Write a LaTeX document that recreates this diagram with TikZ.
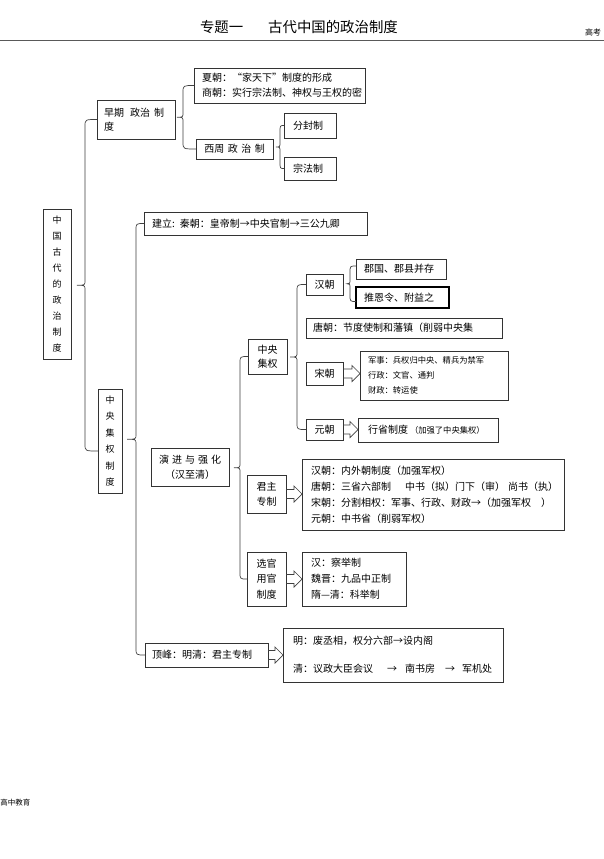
\documentclass[tikz,border=0pt]{standalone}
\usepackage{fontspec}
\setmainfont{Noto Sans CJK SC}
\usetikzlibrary{calc}
\newcommand\cbrace[5]{%
  \draw[brc] let \p1=(#1.east), \p2=#4, \p3=#5, \p4=($#4!0.5!#5$) in
  (\p2) .. controls ({\x1+#2+#3},\y2) .. ({\x1+#2+#3},{\y2-7pt})
  -- ({\x1+#2+#3},{\y4+5pt}) .. controls ({\x1+#2+#3},\y4) .. ({\x1+#2},\y4)
  .. controls ({\x1+#2+#3},\y4) .. ({\x1+#2+#3},{\y4-5pt})
  -- ({\x1+#2+#3},{\y3+7pt}) .. controls ({\x1+#2+#3},\y3) .. (\p3);}
\newcommand\harrow[2]{%
  \draw[har] let \p1=(#1.east), \p2=(#2.west) in
  (\x1,{\y1+4.5pt}) -- ({\x2-8pt},{\y1+4.5pt}) -- ({\x2-8pt},{\y1+8pt}) -- (\x2,\y1)
  -- ({\x2-8pt},{\y1-8pt}) -- ({\x2-8pt},{\y1-4.5pt}) -- (\x1,{\y1-4.5pt});}
\tikzset{
  bx/.style={draw=black!80, line width=0.7pt, anchor=north west, inner ysep=0pt,
    outer sep=0pt, align=left, font=\fontsize{10}{15}\selectfont},
  cbx/.style={bx, inner xsep=0pt, align=center},
  brc/.style={draw=black!75, line width=0.7pt},
  har/.style={draw=black!75, line width=0.7pt},
  plain/.style={inner sep=0pt, outer sep=0pt},
}
\begin{document}
\begin{tikzpicture}[x=1pt,y=-1pt]
\useasboundingbox[fill=white] (0,0) rectangle (604,859);

% header and footer
\node[plain, anchor=west, font=\fontsize{14.4}{16}\selectfont] (title) at (200,27) {专题一\hspace{25pt}古代中国的政治制度};
\node[plain, anchor=east, font=\fontsize{8}{9}\selectfont] (gk) at (601,32) {高考};
\coordinate (hl) at (0,40.7);
\coordinate (hr) at (604,40.7);
\draw[line width=1.5pt, black!65] (hl) -- (hr);
\node[plain, anchor=west, font=\fontsize{7.5}{9}\selectfont] (foot) at (0.5,803) {高中教育};

% root
\node[cbx, minimum width=28pt, minimum height=150pt, text width=28pt, font=\fontsize{9}{16.1}\selectfont] (china) at (43,209)
  {中\\国\\古\\代\\的\\政\\治\\制\\度};

% early system
\node[bx, minimum width=78pt, minimum height=39pt, inner xsep=7pt, text width=64pt, font=\fontsize{10}{14}\selectfont] (zaoqi) at (97,100)
  {早期\hspace{6pt}政治\hspace{4pt}制\\度};
\node[bx, minimum width=171pt, minimum height=35pt, inner xsep=8pt, text width=155pt] (xiashang) at (194,68)
  {夏朝：“家天下”制度的形成\\商朝：实行宗法制、神权与王权的密};
\node[cbx, minimum width=77pt, minimum height=20pt, text width=77pt] (xizhou) at (196,139)
  {西周\hspace{3.5pt}政\hspace{3.5pt}治\hspace{3.5pt}制};
\node[bx, minimum width=52pt, minimum height=25pt, inner xsep=9pt, text width=34pt] (fenfeng) at (284,113) {分封制};
\node[bx, minimum width=52pt, minimum height=23pt, inner xsep=9pt, text width=34pt] (zongfa) at (284,157) {宗法制};

% centralisation
\node[cbx, minimum width=24pt, minimum height=104pt, text width=24pt, font=\fontsize{9}{16.4}\selectfont] (zyjqzd) at (98,389)
  {中\\央\\集\\权\\制\\度};
\node[bx, minimum width=223pt, minimum height=23pt, inner xsep=8pt, text width=207pt] (jianli) at (144,212)
  {建立: 秦朝：皇帝制→中央官制→三公九卿};
\node[bx, minimum width=123pt, minimum height=24pt, inner xsep=7pt, text width=109pt] (dingfeng) at (145,643)
  {顶峰：明清：君主专制};
\node[bx, minimum width=220pt, minimum height=54pt, inner xsep=10pt, text width=200pt, font=\fontsize{10}{28}\selectfont] (mingqing) at (283,628)
  {明：废丞相，权分六部→设内阁\\\mbox{清：议政大臣会议\hspace{14pt}→\hspace{8pt}南书房\hspace{10pt}→\hspace{7pt}军机处}};

\node[cbx, minimum width=78pt, minimum height=38pt, text width=78pt] (yanjin) at (151,448)
  {演\hspace{3pt}进\hspace{3pt}与\hspace{3pt}强\hspace{3pt}化\\（汉至清）};
\node[cbx, minimum width=39pt, minimum height=35pt, text width=39pt, font=\fontsize{10}{14}\selectfont] (zyjq) at (248,339) {中央\\集权};
\node[cbx, minimum width=39pt, minimum height=38pt, text width=39pt] (junzhu) at (247,475) {君主\\专制};
\node[cbx, minimum width=39pt, minimum height=54pt, text width=39pt, font=\fontsize{10}{15.5}\selectfont] (xuanguan) at (247,552) {选官\\用官\\制度};

\node[bx, minimum width=262pt, minimum height=71pt, inner xsep=9pt, text width=244pt, font=\fontsize{10}{16}\selectfont] (jzlist) at (302,459)
  {汉朝：内外朝制度（加强军权）\\
   \mbox{唐朝：三省六部制\hspace{14pt}中书（拟）门下（审）\hspace{3pt}尚书（执）}\\
   \mbox{宋朝：分割相权：军事、行政、财政→（加强军权\hspace{10pt}）}\\
   元朝：中书省（削弱军权）};
\node[bx, minimum width=104pt, minimum height=54pt, inner xsep=9pt, text width=86pt, font=\fontsize{10}{16}\selectfont] (xglist) at (302,552)
  {汉：察举制\\魏晋：九品中正制\\隋—清：科举制};

% dynasties
\node[cbx, minimum width=37pt, minimum height=21pt, text width=37pt] (han) at (306,274) {汉朝};
\node[bx, minimum width=90pt, minimum height=20pt, inner xsep=8pt, text width=74pt] (junguo) at (356,259) {郡国、郡县并存};
\node[bx, draw=black, line width=1.4pt, minimum width=93pt, minimum height=21pt, inner xsep=8pt, text width=77pt] (tuien) at (356,287) {推恩令、附益之};
\node[bx, minimum width=196pt, minimum height=20pt, inner xsep=7pt, text width=182pt] (tang) at (306,318) {唐朝：节度使制和藩镇（削弱中央集};
\node[cbx, minimum width=37pt, minimum height=23pt, text width=37pt] (song) at (306,362) {宋朝};
\node[bx, minimum width=148pt, minimum height=49pt, inner xsep=8pt, text width=132pt, font=\fontsize{8.3}{15}\selectfont] (songlist) at (360,351)
  {军事：兵权归中央、精兵为禁军\\行政：文官、通判\\财政：转运使};
\node[cbx, minimum width=37pt, minimum height=21pt, text width=37pt] (yuan) at (306,419) {元朝};
\node[bx, minimum width=140pt, minimum height=24pt, inner xsep=10pt, text width=120pt] (xingsheng) at (358,418)
  {\mbox{行省制度\hspace{2pt}{\fontsize{8.3}{10}\selectfont（加强了中央集权）}}};

% braces
\cbrace{china}{6pt}{8pt}{(zaoqi.west)}{([yshift=-10pt]zyjqzd.west)}
\cbrace{zaoqi}{2pt}{6pt}{(xiashang.west)}{(xizhou.west)}
\cbrace{xizhou}{3pt}{4pt}{(fenfeng.west)}{(zongfa.west)}
\cbrace{zyjqzd}{5pt}{9pt}{(jianli.west)}{(dingfeng.west)}
\cbrace{yanjin}{5pt}{6pt}{(zyjq.west)}{(xuanguan.west)}
\cbrace{zyjq}{3pt}{7pt}{(han.west)}{(yuan.west)}
\cbrace{han}{4pt}{3pt}{([yshift=3pt]junguo.west)}{([yshift=-4pt]tuien.west)}

% hollow arrows
\harrow{song}{songlist}
\harrow{yuan}{xingsheng}
\harrow{junzhu}{jzlist}
\harrow{xuanguan}{xglist}
\harrow{dingfeng}{mingqing}
\end{tikzpicture}
\end{document}
